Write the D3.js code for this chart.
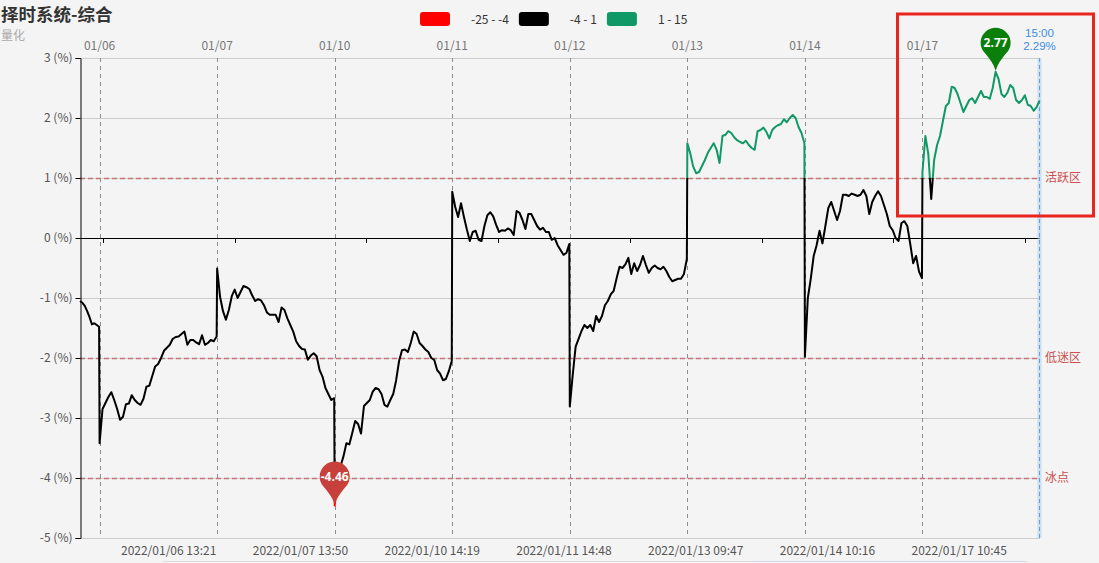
<!DOCTYPE html>
<html>
<head>
<meta charset="utf-8">
<script src="https://cdn.jsdelivr.net/npm/d3@7"></script>
<style>
  body{margin:0;background:#f4f4f4;}
  svg{display:block;font-family:"Noto Sans CJK SC","Microsoft YaHei",sans-serif;}
</style>
</head>
<body>
<svg id="chart" width="1099" height="563"></svg>
<script>
// ---- data ----
const dayLabels = ["01/06","01/07","01/10","01/11","01/12","01/13","01/14","01/17"];
const yTicks = [3,2,1,0,-1,-2,-3,-4,-5];
const zoneLevels = [1,-2,-4];
const zoneNames = ["活跃区","低迷区","冰点"];
const timeLabels = ["2022/01/06 13:21","2022/01/07 13:50","2022/01/10 14:19","2022/01/11 14:48",
                    "2022/01/13 09:47","2022/01/14 10:16","2022/01/17 10:45"];
const legendLabels = ["-25 - -4","-4 - 1","1 - 15"];
const legendRanges = [[-25,-4],[-4,1],[1,15]];
const legendColors = ["#ff0000","#000000","#109866"];
const lastTime = "15:00";

// 01/05 last 40 minutes
const tail0105 = [-1.05,-1.08,-1.13,-1.22,-1.32,-1.44,-1.42,-1.45,-1.48];
// one value every 6 trading minutes, 41 per day
const v0106 = [-3.42,-2.85,-2.75,-2.65,-2.57,-2.7,-2.85,-3.03,-2.98,-2.77,-2.76,-2.62,-2.7,-2.75,-2.78,-2.68,
  -2.48,-2.46,-2.3,-2.14,-2.1,-2.0,-1.88,-1.83,-1.78,-1.68,-1.65,-1.64,-1.6,-1.56,-1.78,-1.7,-1.7,-1.74,-1.77,
  -1.62,-1.78,-1.75,-1.7,-1.72,-1.64];
const v0107 = [-0.51,-0.98,-1.22,-1.36,-1.2,-0.97,-0.86,-1.0,-0.9,-0.8,-0.82,-0.85,-0.96,-1.05,-1.02,-1.04,
  -1.12,-1.24,-1.28,-1.28,-1.28,-1.4,-1.16,-1.2,-1.34,-1.45,-1.56,-1.72,-1.8,-1.85,-1.86,-2.03,-1.96,-1.92,
  -1.97,-2.2,-2.31,-2.5,-2.6,-2.7,-2.67];
const v0110 = [-4.46,-4.0,-3.8,-3.64,-3.42,-3.44,-3.25,-3.05,-3.1,-3.26,-2.8,-2.75,-2.7,-2.56,-2.5,-2.52,
  -2.6,-2.78,-2.81,-2.7,-2.6,-2.37,-2.05,-1.87,-1.86,-1.9,-1.75,-1.56,-1.6,-1.75,-1.8,-1.86,-1.9,-2.0,-2.03,
  -2.2,-2.26,-2.37,-2.35,-2.22,-2.05];
const v0111 = [0.77,0.52,0.35,0.58,0.35,0.14,-0.05,0.1,0.12,-0.03,-0.05,0.2,0.38,0.43,0.36,0.22,0.1,0.13,
  0.12,0.16,0.13,0.05,0.45,0.42,0.3,0.15,0.4,0.4,0.3,0.2,0.14,0.17,0.1,0.1,-0.03,0.0,-0.12,-0.2,-0.28,-0.25,-0.1];
const v0112 = [-2.81,-2.28,-1.81,-1.68,-1.55,-1.45,-1.5,-1.45,-1.55,-1.3,-1.4,-1.3,-1.12,-1.05,-0.94,-0.88,
  -0.67,-0.48,-0.5,-0.44,-0.33,-0.6,-0.42,-0.55,-0.45,-0.3,-0.45,-0.58,-0.5,-0.46,-0.5,-0.52,-0.48,-0.55,
  -0.65,-0.72,-0.7,-0.68,-0.68,-0.6,-0.35];
const v0113 = [1.58,1.41,1.19,1.08,1.1,1.2,1.3,1.42,1.5,1.58,1.47,1.25,1.7,1.72,1.78,1.75,1.68,1.63,1.6,1.58,
  1.62,1.55,1.5,1.47,1.78,1.8,1.84,1.77,1.66,1.8,1.85,1.88,1.9,1.98,1.93,2.0,2.05,2.0,1.85,1.75,1.58];
const v0114 = [-1.98,-1.0,-0.68,-0.3,-0.12,0.12,-0.09,0.2,0.5,0.6,0.45,0.3,0.45,0.72,0.72,0.7,0.74,0.72,0.7,
  0.72,0.8,0.7,0.4,0.6,0.7,0.78,0.7,0.55,0.4,0.2,0.13,0.0,-0.05,0.25,0.28,0.2,-0.1,-0.42,-0.3,-0.56,-0.67];
const v0117 = [1.1,1.7,1.4,0.65,1.3,1.55,1.7,1.95,2.2,2.25,2.52,2.5,2.4,2.25,2.1,2.2,2.3,2.33,2.25,2.35,2.45,
  2.35,2.35,2.32,2.5,2.77,2.65,2.4,2.35,2.42,2.55,2.5,2.3,2.25,2.3,2.38,2.22,2.2,2.12,2.18,2.29];
const dayValues = [v0106,v0107,v0110,v0111,v0112,v0113,v0114,v0117];

// ---- layout ----
const svg = d3.select("#chart");
const W = 1099, H = 563;
const pL = 80, pR = 1040, pT = 58, pB = 538;
const TAIL = 40, DAY = 240;
const total = TAIL + DAY * dayLabels.length;

const x = d3.scaleLinear().domain([0, total]).range([pL, pR]);
const y = d3.scaleLinear().domain([-5, 3]).range([pB, pT]);

svg.append("rect").attr("width", W).attr("height", H).attr("fill", "#f4f4f4");

// points: minute index + value
const pts = [];
tail0105.forEach((v, k) => pts.push({i: k * 39 / (tail0105.length - 1), v}));
dayValues.forEach((arr, d) => {
  arr.forEach((v, k) => pts.push({i: TAIL + DAY * d + k * 239 / (arr.length - 1), v}));
});

// trading minute -> index
function timeIndex(str){
  const [date, hm] = str.split(" ");
  const d = dayLabels.indexOf(date.slice(5));
  const [h, m] = hm.split(":").map(Number);
  const t = h * 60 + m;
  const off = t <= 690 ? t - 570 : 120 + t - 780;
  return TAIL + DAY * d + off;
}

// gridlines
svg.append("g").selectAll("line").data(yTicks.filter(t => t !== 0)).join("line")
  .attr("x1", pL).attr("x2", pR)
  .attr("y1", d => Math.round(y(d)) + 0.5).attr("y2", d => Math.round(y(d)) + 0.5)
  .attr("stroke", "#cccccc");

// day separators
svg.append("g").selectAll("line").data(dayLabels).join("line")
  .attr("x1", (d, i) => Math.round(x(TAIL + DAY * i)) + 0.5)
  .attr("x2", (d, i) => Math.round(x(TAIL + DAY * i)) + 0.5)
  .attr("y1", pT).attr("y2", pB)
  .attr("stroke", "#8c8c8c").attr("stroke-dasharray", "4,4");

svg.append("g").selectAll("text").data(dayLabels).join("text")
  .attr("x", (d, i) => x(TAIL + DAY * i)).attr("y", 50)
  .attr("text-anchor", "middle").attr("font-size", 12).attr("fill", "#777")
  .text(d => d);

// zone lines
svg.append("g").selectAll("line").data(zoneLevels).join("line")
  .attr("x1", pL).attr("x2", pR)
  .attr("y1", d => Math.round(y(d)) + 0.5).attr("y2", d => Math.round(y(d)) + 0.5)
  .attr("stroke", "#c47676").attr("stroke-width", 1.3).attr("stroke-dasharray", "5,3");
svg.append("g").selectAll("text").data(zoneLevels).join("text")
  .attr("x", pR + 5).attr("y", d => y(d) + 4)
  .attr("font-size", 12).attr("fill", "#c9504f")
  .text((d, i) => zoneNames[i]);

// zero line + x ticks on it
svg.append("line").attr("x1", pL).attr("x2", pR)
  .attr("y1", Math.round(y(0)) + 0.5).attr("y2", Math.round(y(0)) + 0.5).attr("stroke", "#000");
const tickIdx = timeLabels.map(t => timeIndex(t) - 134.5);
tickIdx.push(timeIndex(timeLabels[timeLabels.length - 1]) + 134.5);
svg.append("g").selectAll("line").data(tickIdx).join("line")
  .attr("x1", d => Math.round(x(d)) + 0.5).attr("x2", d => Math.round(x(d)) + 0.5)
  .attr("y1", y(0)).attr("y2", y(0) + 5).attr("stroke", "#000");

// bottom time labels
svg.append("g").selectAll("text").data(timeLabels).join("text")
  .attr("x", d => x(timeIndex(d))).attr("y", 555)
  .attr("text-anchor", "middle").attr("font-size", 12).attr("fill", "#555")
  .text(d => d);

// y axis
const yAxis = d3.axisLeft(y).tickValues(yTicks).tickSize(5).tickFormat(d => d + " (%)");
const ya = svg.append("g").attr("transform", `translate(${pL + 0.5},0)`).call(yAxis);
ya.select(".domain").attr("stroke", "#000");
ya.selectAll(".tick line").attr("stroke", "#000");
ya.selectAll(".tick text").attr("fill", "#555").attr("font-size", 12)
  .attr("font-family", "'Noto Sans CJK SC',sans-serif").attr("x", -8);

// last point vertical line
const lastX = Math.round(x(pts[pts.length - 1].i)) - 0.5;
svg.append("line").attr("x1", lastX).attr("x2", lastX).attr("y1", pT).attr("y2", pB)
  .attr("stroke", "rgba(170,205,240,0.55)").attr("stroke-width", 4);
svg.append("line").attr("x1", lastX).attr("x2", lastX).attr("y1", pT).attr("y2", pB)
  .attr("stroke", "#6a9fd8").attr("stroke-dasharray", "4,3");

// slider remnant at the very bottom
svg.append("line").attr("x1", 163).attr("x2", 1027).attr("y1", 561.5).attr("y2", 561.5).attr("stroke", "#dddddd");
svg.append("line").attr("x1", 753).attr("x2", 1027).attr("y1", 561.5).attr("y2", 561.5).attr("stroke", "#cfdcec");

// coloured series, split at the piece thresholds
function colorOf(v){
  for (let j = 0; j < legendRanges.length; j++){
    if (v >= legendRanges[j][0] && v <= legendRanges[j][1]) return legendColors[j];
  }
  return legendColors[1];
}
const cutsAt = [-4, 1];
const pieces = [];
for (let n = 1; n < pts.length; n++){
  const a = pts[n - 1], b = pts[n];
  const ts = [0, 1];
  cutsAt.forEach(t => { if ((a.v - t) * (b.v - t) < 0) ts.push((t - a.v) / (b.v - a.v)); });
  ts.sort((p, q) => p - q);
  for (let j = 1; j < ts.length; j++){
    const p0 = {i: a.i + (b.i - a.i) * ts[j - 1], v: a.v + (b.v - a.v) * ts[j - 1]};
    const p1 = {i: a.i + (b.i - a.i) * ts[j], v: a.v + (b.v - a.v) * ts[j]};
    const c = colorOf((p0.v + p1.v) / 2);
    const last = pieces[pieces.length - 1];
    if (last && last.color === c) last.pts.push(p1);
    else pieces.push({color: c, pts: [p0, p1]});
  }
}
const line = d3.line().x(d => x(d.i)).y(d => y(d.v));
svg.append("g").selectAll("path").data(pieces).join("path")
  .attr("d", d => line(d.pts))
  .attr("fill", "none").attr("stroke", d => d.color)
  .attr("stroke-width", 2).attr("stroke-linejoin", "round");

// pins for max / min
function pinPath(r, h){
  const c = r / h, s = Math.sqrt(1 - c * c);
  const px = r * s, py = -h + r * c;
  return `M0,0 Q-2,-8 ${-px},${py} A${r},${r} 0 1 1 ${px},${py} Q2,-8 0,0 Z`;
}
const maxP = pts.reduce((a, b) => b.v > a.v ? b : a);
const minP = pts.reduce((a, b) => b.v < a.v ? b : a);
[[maxP, "#0a7f0a"], [minP, "#c8403b"]].forEach(([p, col]) => {
  const g = svg.append("g").attr("transform", `translate(${x(p.i)},${y(p.v) - 1})`);
  g.append("path").attr("d", pinPath(15, 28)).attr("fill", col);
  g.append("text").attr("y", -24).attr("text-anchor", "middle")
    .attr("font-size", 12).attr("font-weight", "bold").attr("fill", "#fff")
    .attr("font-family", "'Open Sans',sans-serif")
    .text(p.v.toFixed(2));
});

// last value label
const lastG = svg.append("g").attr("font-family", "'Liberation Sans',Arial,sans-serif")
  .attr("font-size", 11.5).attr("fill", "#3a8ee0").attr("text-anchor", "middle");
lastG.append("text").attr("x", lastX).attr("y", 37).text(lastTime);
lastG.append("text").attr("x", lastX).attr("y", 50).text(pts[pts.length - 1].v.toFixed(2) + "%");

// title
svg.append("text").attr("x", 1).attr("y", 20.5).attr("font-size", 17.5).attr("font-weight", "bold")
  .attr("fill", "#333").text("择时系统-综合");
svg.append("text").attr("x", 1).attr("y", 40).attr("font-size", 12).attr("fill", "#aaa").text("量化");

// legend
let lx = 420;
legendLabels.forEach((lab, j) => {
  svg.append("rect").attr("x", lx).attr("y", 12).attr("width", 30).attr("height", 14)
    .attr("rx", 3).attr("fill", legendColors[j]);
  const t = svg.append("text").attr("x", lx + 51).attr("y", 24).attr("font-size", 12)
    .attr("fill", "#333").text(lab);
  lx = lx + 51 + t.node().getComputedTextLength() + 10;
});

// highlight box
svg.append("rect").attr("x", 897.5).attr("y", 14).attr("width", 196).attr("height", 202)
  .attr("fill", "none").attr("stroke", "#e8251f").attr("stroke-width", 3);
</script>
</body>
</html>
